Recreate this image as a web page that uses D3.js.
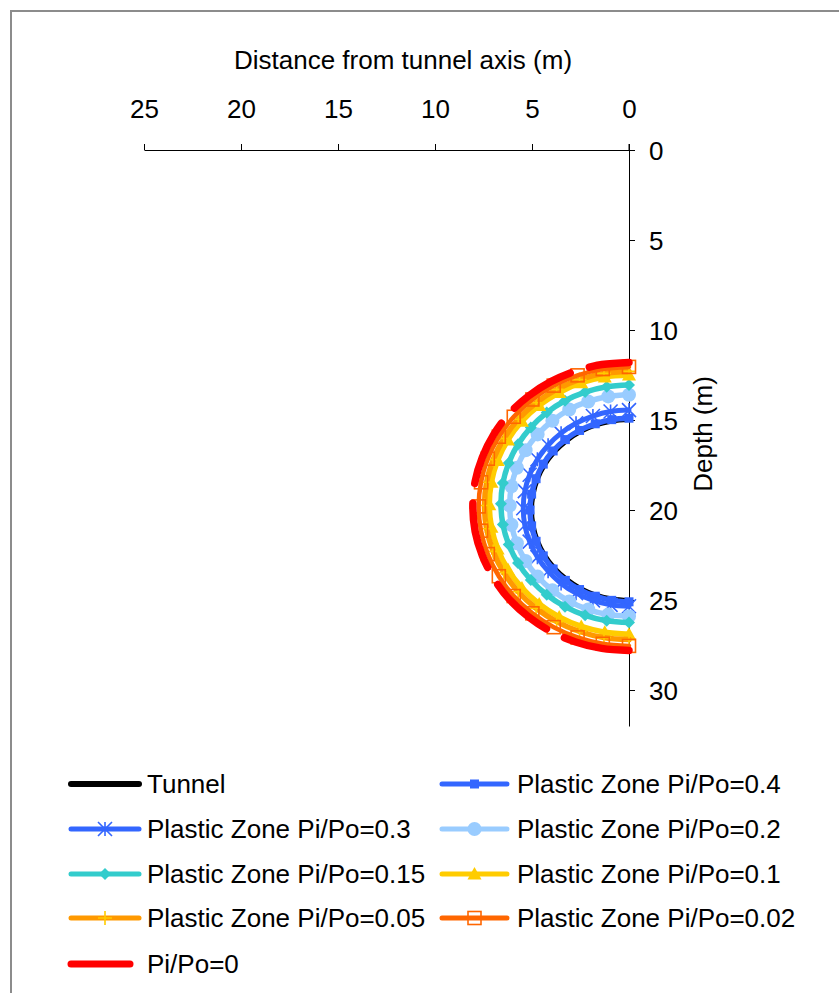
<!DOCTYPE html>
<html><head><meta charset="utf-8">
<script src="https://cdn.jsdelivr.net/npm/d3@7"></script>
<style>
html,body{margin:0;padding:0;background:#fff;}
svg{display:block;font-family:"Liberation Sans",Arial,sans-serif;}
</style></head>
<body>
<svg id="c" width="839" height="993"></svg>
<script>
// ---- data (distance from axis in m, depth in m) ----
const xTicks = [25, 20, 15, 10, 5, 0];
const yTicks = [0, 5, 10, 15, 20, 25, 30];

const tunnelX = [0,0.87,1.71,2.5,3.21,3.83,4.33,4.70,4.92,5,4.92,4.70,4.33,3.83,3.21,2.5,1.71,0.87,0];
const tunnelY = [15,15.08,15.30,15.67,16.17,16.79,17.5,18.29,19.13,20,20.87,21.71,22.5,23.21,23.83,24.33,24.70,24.92,25];

const pz040X = [0,0.89,1.74,2.55,3.28,3.91,4.42,4.79,5.02,5.1,5.02,4.79,4.42,3.91,3.28,2.55,1.74,0.89,0];
const pz040Y = [14.9,14.98,15.21,15.58,16.09,16.72,17.45,18.26,19.12,20,20.88,21.74,22.55,23.28,23.91,24.42,24.79,25.02,25.1];

const pz030X = [0,0.95,1.86,2.73,3.50,4.17,4.72,5.12,5.37,5.45,5.37,5.12,4.72,4.17,3.50,2.73,1.86,0.95,0];
const pz030Y = [14.45,14.53,14.78,15.18,15.73,16.40,17.18,18.04,18.95,19.9,20.85,21.76,22.62,23.40,24.08,24.62,25.02,25.27,25.35];

const pz020X = [0,1.07,2.10,3.08,3.95,4.71,5.33,5.78,6.06,6.15,6.06,5.78,5.33,4.71,3.95,3.08,2.10,1.07,0];
const pz020Y = [13.6,13.69,13.97,14.42,15.04,15.80,16.68,17.65,18.68,19.75,20.82,21.85,22.83,23.70,24.46,25.08,25.53,25.81,25.9];

const pz015X = [0,1.15,2.26,3.3,4.24,5.06,5.72,6.20,6.5,6.6,6.5,6.20,5.72,5.06,4.24,3.3,2.26,1.15,0];
const pz015Y = [13.05,13.15,13.45,13.93,14.59,15.41,16.35,17.39,18.50,19.65,20.80,21.91,22.95,23.89,24.71,25.37,25.85,26.15,26.25];

const pz010X = [0,1.25,2.46,3.6,4.63,5.52,6.24,6.77,7.09,7.2,7.09,6.77,6.24,5.52,4.63,3.6,2.46,1.25,0];
const pz010Y = [12.5,12.61,12.93,13.47,14.19,15.07,16.1,17.24,18.45,19.7,20.95,22.16,23.3,24.33,25.22,25.94,26.47,26.79,26.9];

const pz005X = [0,1.29,2.55,3.73,4.79,5.71,6.45,7.00,7.34,7.45,7.34,7.00,6.45,5.71,4.79,3.73,2.55,1.29,0];
const pz005Y = [12.3,12.41,12.75,13.30,14.04,14.96,16.03,17.20,18.46,19.75,21.04,22.30,23.48,24.54,25.46,26.20,26.75,27.09,27.2];

const pz002X = [0,1.35,2.65,3.88,4.98,5.94,6.71,7.28,7.63,7.75,7.63,7.28,6.71,5.94,4.98,3.88,2.65,1.35,0];
const pz002Y = [12.05,12.17,12.52,13.09,13.86,14.82,15.93,17.15,18.46,19.8,21.15,22.45,23.68,24.78,25.74,26.51,27.08,27.43,27.55];

const pz000X = [0,1.40,2.75,4.03,5.17,6.17,6.97,7.56,7.93,8.05,7.93,7.56,6.97,6.17,5.17,4.03,2.75,1.40,0];
const pz000Y = [11.8,11.92,12.28,12.87,13.66,14.64,15.80,17.07,18.41,19.8,21.19,22.53,23.80,24.96,25.94,26.74,27.33,27.69,27.8];

const seriesNames = ["Tunnel","Plastic Zone Pi/Po=0.4","Plastic Zone Pi/Po=0.3","Plastic Zone Pi/Po=0.2",
  "Plastic Zone Pi/Po=0.15","Plastic Zone Pi/Po=0.1","Plastic Zone Pi/Po=0.05","Plastic Zone Pi/Po=0.02","Pi/Po=0"];
const seriesX = [tunnelX,pz040X,pz030X,pz020X,pz015X,pz010X,pz005X,pz002X,pz000X];
const seriesY = [tunnelY,pz040Y,pz030Y,pz020Y,pz015Y,pz010Y,pz005Y,pz002Y,pz000Y];

// ---- styles ----
const styles = [
  {color:"#000000", width:4, marker:null},
  {color:"#3366FF", width:5.5, marker:"square", mcolor:"#3366FF", size:9},
  {color:"#3366FF", width:5, marker:"star", mcolor:"#3366FF", size:14},
  {color:"#99CCFF", width:5.5, marker:"circle", mcolor:"#99CCFF", size:14},
  {color:"#33CCCC", width:5.5, marker:"diamond", mcolor:"#33CCCC", size:12},
  {color:"#FFCC00", width:5.5, marker:"triangle", mcolor:"#FFCC00", size:14},
  {color:"#FF9900", width:5.5, marker:"plus", mcolor:"#FFCC00", size:14},
  {color:"#FF6600", width:4.5, marker:"opensquare", mcolor:"#FF6600", size:13},
  {color:"#FF0000", width:7.5, marker:null, dashed:true}
];

const FS = 26;
const svg = d3.select("#c");
svg.append("path").attr("d","M11,993 V11 H839").attr("fill","none").attr("stroke","#8c8c8c").attr("stroke-width",2);

const x = d3.scaleLinear().domain([25,0]).range([144,629]);
const y = d3.scaleLinear().domain([0,32]).range([150,726]);

const xAxis = svg.append("g").attr("transform","translate(0,150)")
  .call(d3.axisTop(x).tickValues(xTicks).tickSizeInner(6).tickSizeOuter(0).tickPadding(26));
const yAxis = svg.append("g").attr("transform","translate(629,0)")
  .call(d3.axisRight(y).tickValues(yTicks).tickSizeInner(6).tickSizeOuter(0).tickPadding(14));
[xAxis,yAxis].forEach(a=>{
  a.select(".domain").attr("stroke","#000").attr("stroke-width",1);
  a.selectAll(".tick line").attr("stroke","#000");
  a.selectAll(".tick text").attr("font-size",FS).attr("fill","#000")
   .attr("font-family","Liberation Sans, Arial, sans-serif");
});
yAxis.selectAll(".tick text").attr("dy","0.36em");
svg.append("line").attr("x1",629).attr("x2",629).attr("y1",144).attr("y2",150).attr("stroke","#000");

svg.append("text").attr("x",403).attr("y",69).attr("text-anchor","middle").attr("font-size",FS)
  .text("Distance from tunnel axis (m)");
svg.append("text").attr("transform","translate(712,434) rotate(-90)").attr("text-anchor","middle")
  .attr("font-size",FS).text("Depth (m)");

function drawMarker(g, type, cx, cy, st){
  const s = st.size, h = s/2;
  if(type==="square"){
    g.append("rect").attr("x",cx-h).attr("y",cy-h).attr("width",s).attr("height",s).attr("fill",st.mcolor);
  } else if(type==="opensquare"){
    g.append("rect").attr("x",cx-h).attr("y",cy-h).attr("width",s).attr("height",s)
      .attr("fill","none").attr("stroke",st.mcolor).attr("stroke-width",1.6);
  } else if(type==="circle"){
    g.append("circle").attr("cx",cx).attr("cy",cy).attr("r",h).attr("fill",st.mcolor);
  } else if(type==="diamond"){
    g.append("path").attr("d",`M${cx},${cy-h}L${cx+h},${cy}L${cx},${cy+h}L${cx-h},${cy}Z`).attr("fill",st.mcolor);
  } else if(type==="triangle"){
    g.append("path").attr("d",`M${cx},${cy-h}L${cx+h},${cy+h*0.8}L${cx-h},${cy+h*0.8}Z`).attr("fill",st.mcolor);
  } else if(type==="star"){
    g.append("path").attr("d",`M${cx-h},${cy-h}L${cx+h},${cy+h}M${cx-h},${cy+h}L${cx+h},${cy-h}M${cx},${cy-h}L${cx},${cy+h}`)
      .attr("stroke",st.mcolor).attr("stroke-width",1.6).attr("fill","none");
  } else if(type==="plus"){
    g.append("path").attr("d",`M${cx-h},${cy}L${cx+h},${cy}M${cx},${cy-h}L${cx},${cy+h}`)
      .attr("stroke",st.mcolor).attr("stroke-width",1.6).attr("fill","none");
  }
}

const line = d3.line().x(d=>x(d[0])).y(d=>y(d[1])).curve(d3.curveCatmullRom);
const plot = svg.append("g");
seriesNames.forEach((name,i)=>{
  const st = styles[i];
  const pts = seriesX[i].map((v,k)=>[v, seriesY[i][k]]);
  const g = plot.append("g");
  const p = g.append("path").datum(pts).attr("d",line).attr("fill","none")
    .attr("stroke",st.color).attr("stroke-width",st.width)
    .attr("stroke-linecap","round").attr("stroke-linejoin","round");
  if(st.dashed){
    const L = p.node().getTotalLength();
    const a = 40, gap = 20, n = 5;
    const d = (L - a - n*gap)/n;
    const arr = [a];
    for(let k=0;k<n;k++){ arr.push(gap, d); }
    arr.push(1000);
    p.attr("stroke-dasharray", arr.join(","));
  }
  if(st.marker) pts.forEach(q=>drawMarker(g, st.marker, x(q[0]), y(q[1]), st));
});

const legRows = [784, 829, 874, 918, 964];
const legCols = [{x1:68,x2:142,tx:147},{x1:439,x2:510,tx:517}];
seriesNames.forEach((name,i)=>{
  const st = styles[i];
  const row = Math.floor(i/2), col = i%2;
  const c = legCols[col], cy = legRows[row];
  const g = svg.append("g");
  const w = i===0 ? 6 : (i===8 ? 7 : 5);
  const x2 = i===8 ? 133 : c.x2;
  g.append("line").attr("x1",c.x1+3).attr("x2",x2-3).attr("y1",cy).attr("y2",cy)
    .attr("stroke",st.color).attr("stroke-width",w).attr("stroke-linecap","round");
  if(st.marker) drawMarker(g, st.marker, (c.x1+c.x2)/2, cy, st);
  g.append("text").attr("x",c.tx).attr("y",cy).attr("dy","0.36em")
    .attr("font-size",FS).attr("fill","#000").text(name);
});
</script>
</body></html>
